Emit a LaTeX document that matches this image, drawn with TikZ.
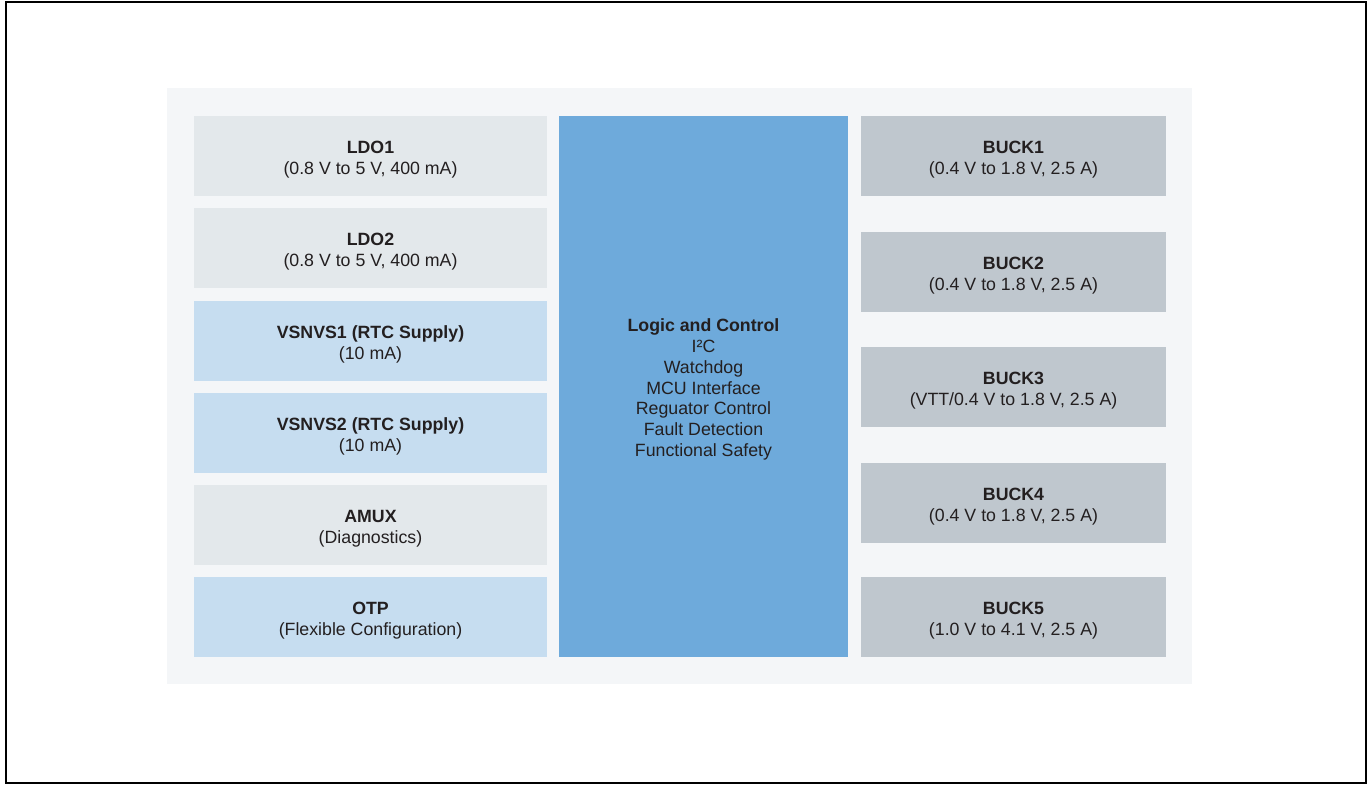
\documentclass[tikz,border=0pt]{standalone}
\usepackage{fontspec}
\setmainfont{Liberation Sans}
\definecolor{panelbg}{HTML}{F4F6F8}
\definecolor{ldogray}{HTML}{E3E8EB}
\definecolor{rtcblue}{HTML}{C6DDF0}
\definecolor{logicblue}{HTML}{6EAADB}
\definecolor{buckgray}{HTML}{BFC7CE}
\definecolor{txtdark}{HTML}{231F20}
% taller first line, pushes the text block a little down in its box
\newcommand{\boxstrut}{\rule{0pt}{10.8pt}}
\begin{document}
\begin{tikzpicture}[
    every node/.style={font=\fontsize{10.1}{11.8}\selectfont, align=center, text=txtdark, inner sep=0pt},
    leftbox/.style={rectangle, minimum width=7.06cm, minimum height=1.6cm},
    buckbox/.style={rectangle, fill=buckgray, minimum width=6.10cm, minimum height=1.6cm},
    logicbox/.style={rectangle, fill=logicblue, minimum width=5.78cm, minimum height=10.82cm}
]
\useasboundingbox (0,0) rectangle (27.38,-15.70);
\draw[black, line width=1.1pt] (0.12,-0.04) rectangle (27.32,-15.66);
\fill[panelbg] (3.34,-1.76) rectangle (23.84,-13.68);
% left column
\node[leftbox, fill=ldogray] (ldo1)   at (7.41,-3.12)  {\boxstrut\textbf{LDO1}\\(0.8 V to 5 V, 400 mA)};
\node[leftbox, fill=ldogray] (ldo2)   at (7.41,-4.96)  {\boxstrut\textbf{LDO2}\\(0.8 V to 5 V, 400 mA)};
\node[leftbox, fill=rtcblue] (vsnvs1) at (7.41,-6.82)  {\boxstrut\textbf{VSNVS1 (RTC Supply)}\\(10 mA)};
\node[leftbox, fill=rtcblue] (vsnvs2) at (7.41,-8.66)  {\boxstrut\textbf{VSNVS2 (RTC Supply)}\\(10 mA)};
\node[leftbox, fill=ldogray] (amux)   at (7.41,-10.50) {\boxstrut\textbf{AMUX}\\(Diagnostics)};
\node[leftbox, fill=rtcblue] (otp)    at (7.41,-12.34) {\boxstrut\textbf{OTP}\\(Flexible Configuration)};
% centre
\node[logicbox] (logic) at (14.07,-7.73)
    {\boxstrut\textbf{Logic and Control}\\I²C\\Watchdog\\MCU Interface\\Reguator Control\\Fault Detection\\Functional Safety};
% right column
\node[buckbox] (buck1) at (20.27,-3.12)  {\boxstrut\textbf{BUCK1}\\(0.4 V to 1.8 V, 2.5 A)};
\node[buckbox] (buck2) at (20.27,-5.44)  {\boxstrut\textbf{BUCK2}\\(0.4 V to 1.8 V, 2.5 A)};
\node[buckbox] (buck3) at (20.27,-7.74)  {\boxstrut\textbf{BUCK3}\\(VTT/0.4 V to 1.8 V, 2.5 A)};
\node[buckbox] (buck4) at (20.27,-10.06) {\boxstrut\textbf{BUCK4}\\(0.4 V to 1.8 V, 2.5 A)};
\node[buckbox] (buck5) at (20.27,-12.34) {\boxstrut\textbf{BUCK5}\\(1.0 V to 4.1 V, 2.5 A)};
\end{tikzpicture}
\end{document}
